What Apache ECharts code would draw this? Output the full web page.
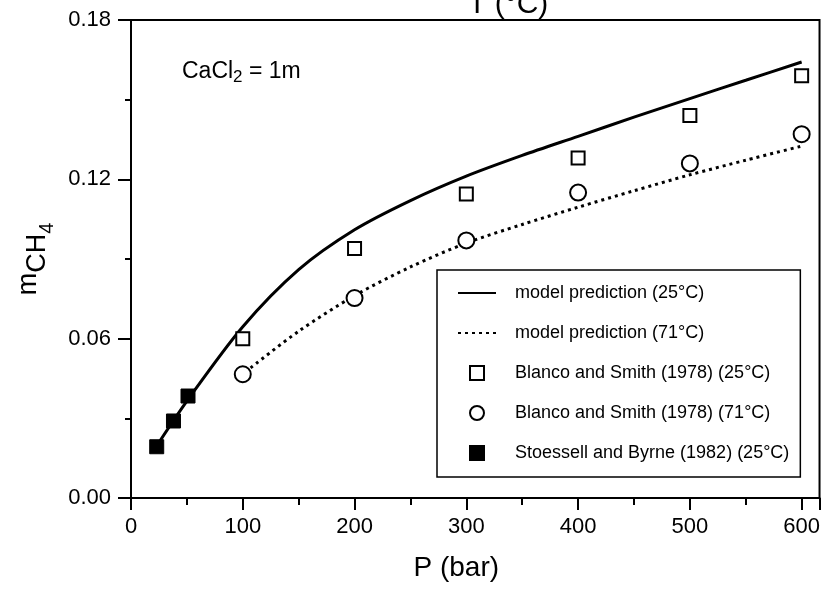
<!DOCTYPE html>
<html>
<head>
<meta charset="utf-8">
<style>
html,body{margin:0;padding:0;background:#fff;}
#main{width:823px;height:592px;}
</style>
<script src="https://cdn.jsdelivr.net/npm/echarts/dist/echarts.min.js"></script>
</head>
<body>
<div id="main"></div>
<script>
// model curves
var model25P = [22, 50, 100, 150, 200, 250, 300, 350, 400, 450, 500, 550, 600];
var model25M = [0.019, 0.0365, 0.0645, 0.0860, 0.1010, 0.1120, 0.1212, 0.1290, 0.1362, 0.1434, 0.1504, 0.1573, 0.1642];
var model71P = [107, 150, 200, 250, 300, 350, 400, 450, 500, 550, 600];
var model71M = [0.049, 0.0628, 0.0762, 0.0870, 0.0960, 0.1030, 0.1095, 0.1157, 0.1217, 0.1272, 0.1325];

// measured data
var blancoP = [100, 200, 300, 400, 500, 600];
var blanco25M = [0.060, 0.094, 0.1145, 0.128, 0.144, 0.159];
var blanco71M = [0.0466, 0.0753, 0.097, 0.115, 0.126, 0.137];
var stoesselP = [23, 38, 51];
var stoesselM = [0.0193, 0.029, 0.0384];

var xTicks = [0, 100, 200, 300, 400, 500, 600];

var seriesNames = [
	'model prediction (25°C)',
	'model prediction (71°C)',
	'Blanco and Smith (1978) (25°C)',
	'Blanco and Smith (1978) (71°C)',
	'Stoessell and Byrne (1982) (25°C)'
];

function pairs(xs, ys) {
	var out = [];
	for (var i = 0; i < xs.length; i++) {
		out.push([xs[i], ys[i]]);
	}
	return out;
}

var font = '"Liberation Sans", Arial, Helvetica, sans-serif';
var squareIcon = 'path://M0,0H10V10H0Z';
var myChart = echarts.init(document.getElementById('main'));

// legend: line items without the symbol dot, squares kept square
var legendData = [
	{ name: seriesNames[0], itemStyle: { opacity: 0 } },
	{ name: seriesNames[1], itemStyle: { opacity: 0 } },
	{ name: seriesNames[2], icon: squareIcon },
	{ name: seriesNames[3] },
	{ name: seriesNames[4], icon: squareIcon }
];

var option = {
	backgroundColor: '#fff',
	animation: false,
	textStyle: { fontFamily: font, color: '#000' },
	title: {
		text: 'T (°C)',
		left: 463,
		top: -15,
		textStyle: { fontFamily: font, fontSize: 30, fontWeight: 'normal', color: '#000' }
	},
	graphic: [{
		type: 'text',
		left: 182,
		top: 60,
		style: {
			text: 'CaCl{s|2} = 1m',
			fontFamily: font,
			fontSize: 23,
			fill: '#000',
			rich: {
				s: { fontFamily: font, fontSize: 17, padding: [11, 0, 0, 0], verticalAlign: 'top' }
			}
		}
	}],
	grid: {
		left: 131,
		right: 2,
		top: 20,
		bottom: 94,
		show: true,
		borderColor: '#000',
		borderWidth: 2
	},
	legend: {
		orient: 'vertical',
		left: 437,
		top: 270,
		padding: [14, 11, 15, 20],
		itemWidth: 38,
		itemHeight: 14,
		itemGap: 22,
		symbolKeepAspect: true,
		backgroundColor: '#fff',
		borderColor: '#000',
		borderWidth: 1.5,
		borderRadius: 0,
		selectedMode: false,
		textStyle: { fontFamily: font, fontSize: 18, color: '#000', padding: [0, 0, 0, 14] },
		data: legendData
	},
	xAxis: {
		type: 'value',
		min: 0,
		max: 616,
		interval: 100,
		name: 'P (bar)',
		nameLocation: 'middle',
		nameGap: 56,
		nameTextStyle: { fontFamily: font, fontSize: 28, color: '#000', padding: [0, 38, 0, 0] },
		axisLine: { onZero: false, lineStyle: { color: '#000', width: 2 } },
		axisTick: { inside: false, length: 12, lineStyle: { width: 2, color: '#000' } },
		minorTick: { show: true, splitNumber: 2, length: 7, lineStyle: { width: 2, color: '#000' } },
		axisLabel: {
			margin: 18,
			fontSize: 22,
			color: '#000',
			fontFamily: font,
			showMaxLabel: false,
			formatter: function (v) {
				return xTicks.indexOf(v) >= 0 ? String(v) : '';
			}
		},
		splitLine: { show: false }
	},
	yAxis: {
		type: 'value',
		min: 0,
		max: 0.18,
		interval: 0.06,
		name: '{m|m}{s|CH}{t|4}',
		nameLocation: 'middle',
		nameRotate: 90,
		nameGap: 72,
		nameTextStyle: {
			fontFamily: font,
			color: '#000',
			rich: {
				m: { fontFamily: font, fontSize: 27, verticalAlign: 'top' },
				s: { fontFamily: font, fontSize: 27, padding: [9, 0, 0, 0], verticalAlign: 'top' },
				t: { fontFamily: font, fontSize: 20, padding: [22, 0, 0, 0], verticalAlign: 'top' }
			}
		},
		axisLine: { onZero: false, lineStyle: { color: '#000', width: 2 } },
		axisTick: { inside: false, length: 13, lineStyle: { width: 2, color: '#000' } },
		minorTick: { show: true, splitNumber: 2, length: 6, lineStyle: { width: 2, color: '#000' } },
		axisLabel: {
			margin: 20,
			fontSize: 22,
			color: '#000',
			fontFamily: font,
			formatter: function (v) {
				return v.toFixed(2);
			}
		},
		splitLine: { show: false }
	},
	series: [{
		name: seriesNames[0],
		type: 'line',
		smooth: 0.3,
		symbol: 'none',
		lineStyle: { color: '#000', width: 3 },
		itemStyle: { color: '#000' },
		data: pairs(model25P, model25M),
		z: 2
	}, {
		name: seriesNames[1],
		type: 'line',
		smooth: 0.3,
		symbol: 'none',
		lineStyle: { color: '#000', width: 3, type: [3, 4] },
		itemStyle: { color: '#000' },
		data: pairs(model71P, model71M),
		z: 2
	}, {
		name: seriesNames[2],
		type: 'scatter',
		symbol: 'rect',
		symbolSize: 13,
		itemStyle: { color: '#fff', borderColor: '#000', borderWidth: 2, opacity: 1 },
		data: pairs(blancoP, blanco25M),
		z: 3
	}, {
		name: seriesNames[3],
		type: 'scatter',
		symbol: 'circle',
		symbolSize: 16,
		itemStyle: { color: '#fff', borderColor: '#000', borderWidth: 2, opacity: 1 },
		data: pairs(blancoP, blanco71M),
		z: 3
	}, {
		name: seriesNames[4],
		type: 'scatter',
		symbol: 'rect',
		symbolSize: 14,
		itemStyle: { color: '#000', borderColor: '#000', borderWidth: 1, opacity: 1 },
		data: pairs(stoesselP, stoesselM),
		z: 4
	}]
};

myChart.setOption(option);
</script>
</body>
</html>
